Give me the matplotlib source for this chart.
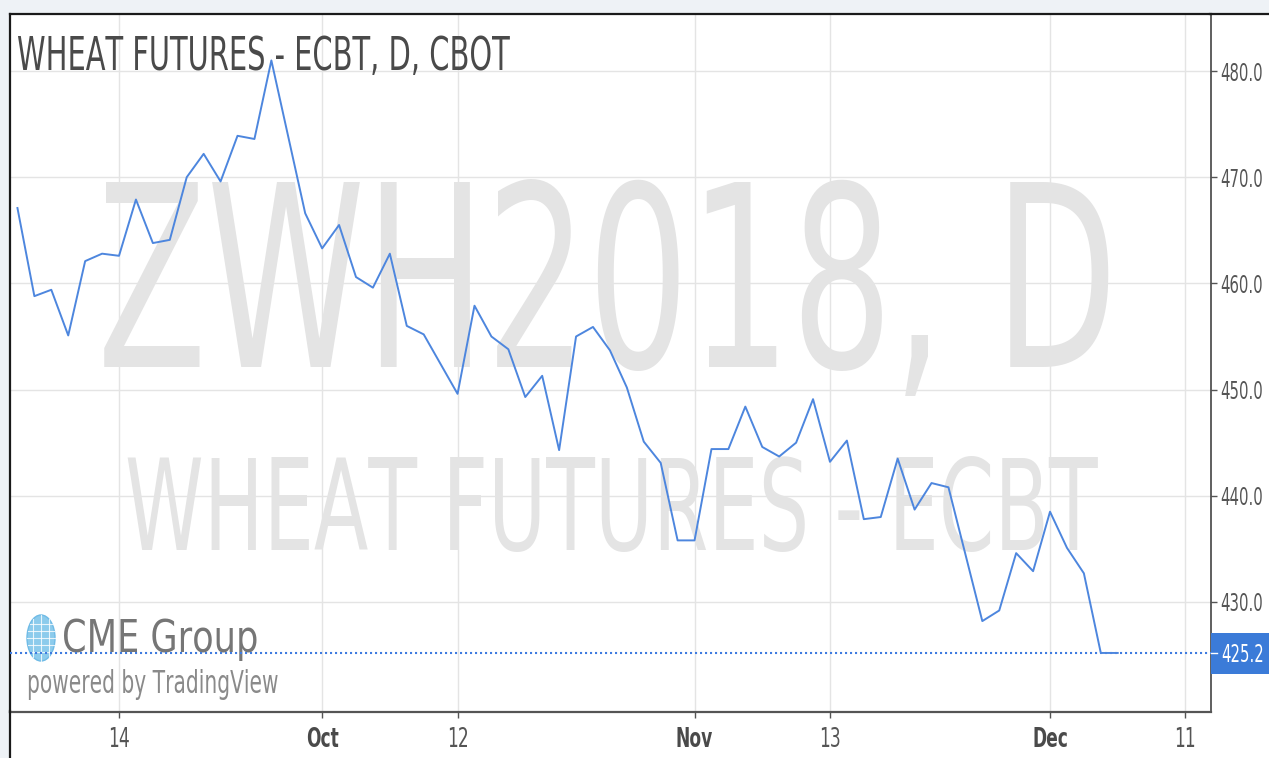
import os
import matplotlib
matplotlib.use("Agg")
import matplotlib.pyplot as plt
import numpy as np
from matplotlib import font_manager
from matplotlib.patches import Rectangle, Ellipse
from matplotlib.patheffects import AbstractPathEffect
from matplotlib.transforms import Affine2D
from matplotlib.lines import Line2D

# ---------------- data ----------------
trade_dates = ["Sep 6", "Sep 7", "Sep 8", "Sep 11", "Sep 12", "Sep 13", "Sep 14", "Sep 15",
               "Sep 18", "Sep 19", "Sep 20", "Sep 21", "Sep 22", "Sep 25", "Sep 26", "Sep 27",
               "Sep 28", "Sep 29", "Oct 2", "Oct 3", "Oct 4", "Oct 5", "Oct 6", "Oct 9", "Oct 10",
               "Oct 11", "Oct 12", "Oct 13", "Oct 16", "Oct 17", "Oct 18", "Oct 19", "Oct 20",
               "Oct 23", "Oct 24", "Oct 25", "Oct 26", "Oct 27", "Oct 30", "Oct 31", "Nov 1",
               "Nov 2", "Nov 3", "Nov 6", "Nov 7", "Nov 8", "Nov 9", "Nov 10", "Nov 13", "Nov 14",
               "Nov 15", "Nov 16", "Nov 17", "Nov 20", "Nov 21", "Nov 22", "Nov 24", "Nov 27",
               "Nov 28", "Nov 29", "Nov 30", "Dec 1", "Dec 4", "Dec 5", "Dec 6", "Dec 7"]
prices = [467.1, 458.8, 459.4, 455.1, 462.1, 462.8, 462.6, 467.9, 463.8, 464.1,
          470.0, 472.2, 469.6, 473.9, 473.6, 481.0, 473.8, 466.6, 463.3, 465.5,
          460.6, 459.6, 462.8, 456.0, 455.2, 452.4, 449.6, 457.9, 455.0, 453.8,
          449.3, 451.3, 444.3, 455.0, 455.9, 453.7, 450.2, 445.1, 443.1, 435.8,
          435.8, 444.4, 444.4, 448.4, 444.6, 443.7, 445.0, 449.1, 443.2, 445.2,
          437.8, 438.0, 443.5, 438.7, 441.2, 440.8, 434.5, 428.2, 429.2, 434.6,
          432.9, 438.5, 435.1, 432.7, 425.2, 425.2]
x_tick_pos = [6, 18, 26, 40, 48, 61, 69]
x_tick_labels = ["14", "Oct", "12", "Nov", "13", "Dec", "11"]
month_labels = ["Oct", "Nov", "Dec"]
y_ticks = [430, 440, 450, 460, 470, 480]
y_tick_labels = ["430.0", "440.0", "450.0", "460.0", "470.0", "480.0"]
last_price = 425.2
last_price_label = "425.2"
title = "WHEAT FUTURES - ECBT, D, CBOT"
wm1 = "ZWH2018, D"
wm2 = "WHEAT FUTURES - ECBT"

# ---------------- condensed fonts ----------------
W, H = 1269, 758
SX = 0.63
SX_LOGO = 0.79


def build_condensed(src, dst, sx, family, bold):
    from fontTools.ttLib import TTFont
    from fontTools.ttLib.tables._g_l_y_f import GlyphCoordinates
    f = TTFont(src)
    glyf = f["glyf"]
    hmtx = f["hmtx"]
    for gname in f.getGlyphOrder():
        g = glyf[gname]
        if g.isComposite():
            for c in g.components:
                if hasattr(c, "x"):
                    c.x = int(round(c.x * sx))
        elif g.numberOfContours > 0:
            g.coordinates = GlyphCoordinates(
                [(int(round(px * sx)), py) for px, py in g.coordinates])
        adv, lsb = hmtx[gname]
        hmtx[gname] = (int(round(adv * sx)), int(round(lsb * sx)))
    for tag in ("GPOS", "kern", "hdmx", "LTSH", "VDMX"):
        if tag in f:
            del f[tag]
    suffix = " Bold" if bold else ""
    for rec in f["name"].names:
        if rec.nameID in (1, 16):
            rec.string = family
        elif rec.nameID == 4:
            rec.string = family + suffix
        elif rec.nameID == 6:
            rec.string = family.replace(" ", "") + ("-Bold" if bold else "")
        elif rec.nameID == 3:
            rec.string = family + suffix + " condensed"
    f.save(dst)
    font_manager.fontManager.addfont(dst)


FAM = "DejaVu Sans"
FAM_LOGO = "DejaVu Sans"
USE_REAL = False
try:
    ttf_dir = os.path.join(matplotlib.get_data_path(), "fonts", "ttf")
    build_condensed(os.path.join(ttf_dir, "DejaVuSans.ttf"), "dvs_c63.ttf", SX,
                    "DejaVuCondA", False)
    build_condensed(os.path.join(ttf_dir, "DejaVuSans-Bold.ttf"), "dvs_c63b.ttf", SX,
                    "DejaVuCondA", True)
    build_condensed(os.path.join(ttf_dir, "DejaVuSans.ttf"), "dvs_c79.ttf", SX_LOGO,
                    "DejaVuCondB", False)
    FAM = "DejaVuCondA"
    FAM_LOGO = "DejaVuCondB"
    USE_REAL = True
except Exception:
    USE_REAL = False


class SqueezeX(AbstractPathEffect):
    """Fallback only: compress glyphs horizontally."""

    def __init__(self, sx=SX, anchor="left"):
        super().__init__()
        self.sx = sx
        self.anchor = anchor

    def draw_path(self, renderer, gc, tpath, affine, rgbFace=None):
        ext = tpath.get_extents(affine)
        if self.anchor == "left":
            x0 = affine.get_matrix()[0, 2]
        elif self.anchor == "center":
            x0 = 0.5 * (ext.x0 + ext.x1)
        else:
            x0 = ext.x1
        t = affine + Affine2D().translate(-x0, 0).scale(self.sx, 1).translate(x0, 0)
        renderer.draw_path(gc, tpath, t, rgbFace)


def condense(text, sx=SX, anchor="left", logo=False):
    if USE_REAL:
        text.set_family([FAM_LOGO if logo else FAM, "DejaVu Sans"])
    else:
        text.set_path_effects([SqueezeX(sx, anchor)])
    return text


def fx(x):
    return x / W


def fy(y):
    return 1 - y / H


plt.rcParams["font.family"] = ["DejaVu Sans"]

fig = plt.figure(figsize=(W / 100, H / 100), dpi=100)
fig.patch.set_facecolor("white")

# light strips at top and left, with their dark border lines
fig.add_artist(Rectangle((0, fy(14)), 1, 14 / H, transform=fig.transFigure,
                         facecolor="#eef2f6", edgecolor="none", zorder=0))
fig.add_artist(Rectangle((0, 0), fx(9), 1, transform=fig.transFigure,
                         facecolor="#eef2f6", edgecolor="none", zorder=0))
fig.add_artist(Line2D([fx(1210), 1], [fy(14)] * 2, transform=fig.transFigure,
                      color="#1a1a1a", lw=1.6, zorder=5))
fig.add_artist(Line2D([fx(10)] * 2, [0, fy(711)], transform=fig.transFigure,
                      color="#1a1a1a", lw=1.6, zorder=5))

ax = fig.add_axes([fx(10), fy(712), (1211 - 10) / W, (712 - 14) / H])
ax.set_facecolor("white")
ax.set_axisbelow(True)

x = np.arange(len(prices))
ax.set_xlim(-0.44, 70.51)
ax.set_ylim(419.64, 485.37)

# watermarks (below grid)
condense(ax.text(fx(607), fy(367), wm1, transform=fig.transFigure, fontsize=183,
                 color="#e4e4e4", ha="center", va="baseline", zorder=0.1),
         SX, "center")
condense(ax.text(fx(611), fy(550), wm2, transform=fig.transFigure, fontsize=91,
                 color="#e4e4e4", ha="center", va="baseline", zorder=0.1),
         SX, "center")

# grid
ax.grid(True, color="#e4e4e4", linewidth=1.0)

# ticks
ax.set_xticks(x_tick_pos, x_tick_labels)
ax.yaxis.tick_right()
ax.set_yticks(y_ticks, y_tick_labels)
ax.tick_params(axis="y", direction="out", length=4.5, width=1.0, color="#555555",
               labelsize=17, labelcolor="#555555", pad=2.5)
ax.tick_params(axis="x", direction="out", length=4.5, width=1.0, color="#555555",
               labelsize=19.5, labelcolor="#555555", pad=6)
for lbl in ax.get_yticklabels():
    condense(lbl, SX, "left")
for lbl in ax.get_xticklabels():
    condense(lbl, SX, "center")
    if lbl.get_text() in month_labels:
        lbl.set_fontweight("bold")
        lbl.set_color("#4a4a4a")

# spines
ax.spines["top"].set_linewidth(1.6)
ax.spines["top"].set_color("#1a1a1a")
ax.spines["left"].set_linewidth(1.6)
ax.spines["left"].set_color("#1a1a1a")
ax.spines["right"].set_linewidth(1.2)
ax.spines["right"].set_color("#444444")
ax.spines["bottom"].set_linewidth(1.6)
ax.spines["bottom"].set_color("#555555")

# logo
glob = Ellipse((fx(41), fy(638)), 28 / W, 46 / H, transform=fig.transFigure,
               facecolor="#8ccbec", edgecolor="#6fbbe6", linewidth=1, zorder=2)
ax.add_artist(glob)
for dy in (-14, -7, 0, 7, 14):
    half = 14 * np.sqrt(max(0, 1 - (dy / 23) ** 2))
    ax.add_artist(Line2D([fx(41 - half), fx(41 + half)], [fy(638 + dy)] * 2,
                         transform=fig.transFigure, color="white", lw=0.8,
                         alpha=0.8, zorder=2.1))
for dx in (-8, 0, 8):
    half = 23 * np.sqrt(max(0, 1 - (dx / 14) ** 2))
    ax.add_artist(Line2D([fx(41 + dx)] * 2, [fy(638 - half), fy(638 + half)],
                         transform=fig.transFigure, color="white", lw=0.8,
                         alpha=0.8, zorder=2.1))
condense(ax.text(fx(62), fy(652), "CME Group", transform=fig.transFigure, fontsize=32,
                 color="#767676", ha="left", va="baseline", zorder=2),
         SX_LOGO, "left", logo=True)
condense(ax.text(fx(27), fy(693), "powered by TradingView", transform=fig.transFigure,
                 fontsize=23, color="#8a8a8a", ha="left", va="baseline", zorder=2),
         SX, "left")

# title
condense(ax.text(fx(17), fy(70), title, transform=fig.transFigure, fontsize=33,
                 color="#4a4a4a", ha="left", va="baseline", zorder=5), SX, "left")

# price line
ax.plot(x, prices, color="#4d86de", linewidth=1.4, zorder=4, solid_joinstyle="round")
ax.axhline(last_price, color="#3f7be0", linewidth=1.5, linestyle=(0, (1.0, 1.4)),
           zorder=3)

# last price box
ax.add_artist(Rectangle((fx(1211), fy(674)), (1269 - 1211) / W, (674 - 633) / H,
                        transform=fig.transFigure, facecolor="#3b7bd8",
                        edgecolor="none", zorder=6, clip_on=False))
ax.add_artist(Line2D([fx(1211), fx(1217)], [fy(653)] * 2, transform=fig.transFigure,
                     color="white", lw=1.0, zorder=7, clip_on=False))
condense(ax.text(fx(1221), fy(653), last_price_label, transform=fig.transFigure,
                 fontsize=17, color="white", ha="left", va="center_baseline",
                 zorder=7, clip_on=False), SX, "left")

fig.savefig("out.png", dpi=100, facecolor=fig.get_facecolor())
